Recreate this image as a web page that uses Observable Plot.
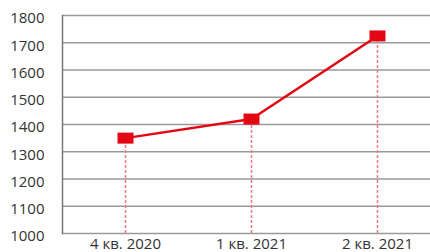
<!DOCTYPE html>
<html>
<head>
<meta charset="utf-8">
<script src="https://cdn.jsdelivr.net/npm/d3@7"></script>
<script src="https://cdn.jsdelivr.net/npm/@observablehq/plot@0.6"></script>
<style>
  html, body { margin: 0; padding: 0; background: #fff; }
  #chart svg { display: block; }
</style>
</head>
<body>
<div id="chart"></div>
<script>
const quarters = ["4 кв. 2020", "1 кв. 2021", "2 кв. 2021"];
const values = [1350, 1420, 1725];
const yTicks = [1000, 1100, 1200, 1300, 1400, 1500, 1600, 1700, 1800];

const data = quarters.map((q, i) => ({q, v: values[i]}));

const rectSymbol = {
  draw(context) {
    context.moveTo(-8, -5.5);
    context.lineTo(8, -5.5);
    context.lineTo(8, 5.5);
    context.lineTo(-8, 5.5);
    context.closePath();
  }
};

const chart = Plot.plot({
  width: 430,
  height: 252,
  marginLeft: 62,
  marginRight: 0,
  marginTop: 15,
  marginBottom: 19,
  style: {fontFamily: "'Open Sans', sans-serif", fontSize: "15px", color: "#333", background: "#fff"},
  x: {type: "point", domain: quarters, padding: 0, insetLeft: 62, insetRight: 53, label: null},
  y: {domain: [1000, 1800], label: null},
  marks: [
    Plot.ruleY(yTicks, {stroke: "#9a9a9a", strokeWidth: 1.5}),
    Plot.frame({anchor: "left", stroke: "#777", strokeWidth: 1.5}),
    Plot.axisY({ticks: yTicks, tickFormat: "d", tickSize: 0, tickPadding: 18, dy: 3, label: null, fill: "#333", fontSize: 15}),
    Plot.axisX({tickSize: 0, tickPadding: 5, label: null, fill: "#333", fontSize: 15}),
    Plot.ruleX(data, {x: "q", y1: 1000, y2: "v", stroke: "#ef7a85", strokeWidth: 1.5, strokeDasharray: "3,2"}),
    Plot.line(data, {x: "q", y: "v", stroke: "#e30613", strokeWidth: 2.5}),
    Plot.dot(data, {x: "q", y: "v", symbol: rectSymbol, fill: "#e30613", stroke: "none"})
  ]
});
document.getElementById("chart").append(chart);
</script>
</body>
</html>
